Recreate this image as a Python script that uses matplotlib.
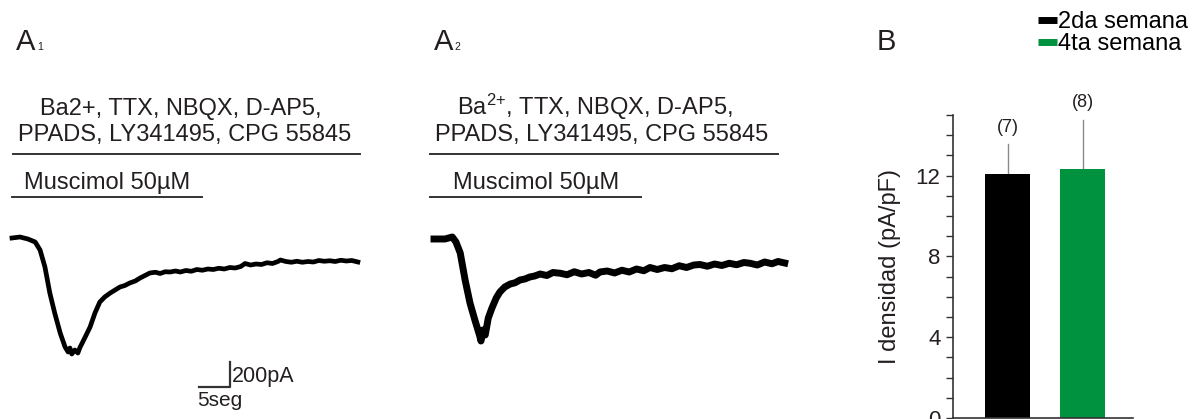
import matplotlib
matplotlib.use('Agg')
import matplotlib.pyplot as plt
from matplotlib.lines import Line2D
from matplotlib.transforms import blended_transform_factory

plt.rcParams['font.family'] = ['Liberation Sans', 'DejaVu Sans']
plt.rcParams['mathtext.fontset'] = 'custom'
plt.rcParams['mathtext.rm'] = 'Liberation Sans'
plt.rcParams['mathtext.it'] = 'Liberation Sans:italic'
plt.rcParams['mathtext.bf'] = 'Liberation Sans:bold'

# ---------------- data ----------------
# Trace A1 (time in s, current in pA, baseline = 0)
a1_t = [0.0, 1.3, 2.6, 3.8, 4.6, 5.4, 6.2, 7.0, 7.9, 8.7, 9.2, 9.5, 9.8, 10.3,
        10.8, 11.1, 12.0, 12.8, 13.6, 14.4, 15.2, 16.1, 16.9, 17.7, 18.5, 19.3,
        20.2, 21.0, 21.8, 22.6, 23.5, 24.3, 25.1, 25.9, 26.8, 27.6, 28.5, 29.4,
        30.3, 31.2, 32.1, 33.0, 33.9, 34.8, 35.7, 36.6, 37.5, 38.2, 39.1, 40.0,
        40.9, 41.8, 42.7, 43.6, 44.0, 44.9, 45.8, 46.7, 47.6, 48.5, 49.4, 50.3,
        51.2, 52.1, 53.0, 53.9, 54.8, 55.7, 56.7]
a1_i = [0, 8, -8, -32, -96, -232, -440, -600, -760, -872, -912, -880, -928, -896,
        -920, -880, -792, -712, -600, -512, -472, -440, -416, -392, -380, -360,
        -344, -320, -300, -280, -274, -284, -270, -272, -264, -272, -260, -266,
        -252, -258, -248, -252, -242, -248, -236, -240, -228, -204, -216, -208,
        -212, -198, -204, -188, -176, -188, -194, -186, -194, -188, -192, -180,
        -186, -182, -188, -178, -184, -180, -192]

# Trace A2
a2_t = [0.0, 1.8, 3.0, 3.6, 4.3, 5.1, 5.9, 6.7, 7.2, 7.5, 7.7, 8.0, 8.4, 8.9,
        9.5, 10.2, 10.8, 11.6, 12.5, 13.3, 14.1, 14.9, 15.7, 16.5, 17.4, 18.5,
        19.5, 20.7, 21.8, 23.0, 24.2, 25.4, 26.5, 27.2, 28.4, 29.6, 30.8, 32.0,
        33.2, 34.4, 35.4, 36.6, 37.8, 39.0, 40.2, 41.4, 42.6, 43.6, 44.8, 46.0,
        47.2, 48.4, 49.6, 50.8, 51.8, 53.0, 54.2, 55.4, 56.4, 57.5]
a2_i = [0, 0, 16, -24, -112, -328, -512, -648, -728, -776, -816, -728, -768, -632,
        -552, -472, -424, -384, -360, -350, -328, -320, -304, -296, -280, -292,
        -268, -274, -286, -262, -280, -268, -290, -264, -256, -272, -250, -264,
        -240, -254, -228, -244, -228, -238, -214, -228, -208, -204, -218, -200,
        -212, -194, -206, -188, -194, -208, -184, -198, -180, -192]

# drug application periods (s)
drug_a1 = [0.2, 57.0]
musc_a1 = [0.0, 31.1]
drug_a2 = [-0.7, 56.4]
musc_a2 = [-0.7, 33.9]

# scale bar
scale_t = 5      # s
scale_i = 200    # pA

# bar chart
groups = ['2da semana', '4ta semana']
means = [12.1, 12.35]
errs = [1.45, 2.4]
ns = ['(7)', '(8)']
colors = ['#000000', '#00923F']

# ---------------- figure ----------------
W, H = 1200, 419
fig = plt.figure(figsize=(12, 4.19), dpi=100)
TXT = '#231f20'


def fx(px):
    return px / W


def fy(py):
    return 1 - py / H


PXS = 6.1      # px per second
PXI = 0.125    # px per pA


def trace_axes(left_px, t0_px, base_px):
    ax = fig.add_axes([fx(left_px), 0, 400 / W, (H - 60) / H])
    ax.set_xlim(-(t0_px - left_px) / PXS, (left_px + 400 - t0_px) / PXS)
    ax.set_ylim(-(H - base_px) / PXI, (base_px - 60) / PXI)
    ax.axis('off')
    return ax


ax1 = trace_axes(0, 12, 238)
ax1.plot(a1_t, a1_i, color='black', lw=3.4, solid_joinstyle='round')
ax2 = trace_axes(420, 434, 239)
ax2.plot(a2_t, a2_i, color='black', lw=5.0, solid_joinstyle='round')

for ax, drug, musc in [(ax1, drug_a1, musc_a1), (ax2, drug_a2, musc_a2)]:
    tr = blended_transform_factory(ax.transData, fig.transFigure)
    ax.plot(drug, [fy(154)] * 2, color='#333333', lw=1.4, transform=tr, clip_on=False)
    ax.plot(musc, [fy(197)] * 2, color='#333333', lw=1.4, transform=tr, clip_on=False)

# scale bar in A1
sb_t1 = 35.7
sb_i0 = -1192
ax1.plot([sb_t1 - scale_t, sb_t1, sb_t1], [sb_i0, sb_i0, sb_i0 + scale_i],
         color='#333333', lw=1.6, clip_on=False)
ax1.text(sb_t1 + 0.3, sb_i0 + 40, f'{scale_i}pA', fontsize=15.5, color=TXT,
         ha='left', va='baseline')
ax1.text(sb_t1 - scale_t - 0.3, -1340, f'{scale_t}seg', fontsize=15, color=TXT,
         ha='left', va='baseline')

# panel texts
fig.text(fx(16), fy(50), 'A', fontsize=21, color=TXT, ha='left', va='baseline')
fig.text(fx(37), fy(50), '1', fontsize=7.5, color=TXT, ha='left', va='baseline')
fig.text(fx(434), fy(50), 'A', fontsize=21, color=TXT, ha='left', va='baseline')
fig.text(fx(454), fy(50), '2', fontsize=7.5, color=TXT, ha='left', va='baseline')
fig.text(fx(877), fy(50), 'B', fontsize=21, color=TXT, ha='left', va='baseline')

fig.text(fx(40), fy(115), 'Ba2+, TTX, NBQX, D-AP5,', fontsize=17, color=TXT,
         ha='left', va='baseline')
fig.text(fx(18), fy(141), 'PPADS, LY341495, CPG 55845', fontsize=17, color=TXT,
         ha='left', va='baseline')
fig.text(fx(24), fy(189), 'Muscimol 50µM', fontsize=17, color=TXT,
         ha='left', va='baseline')

fig.text(fx(457), fy(115), 'Ba$^{2{+}}$, TTX, NBQX, D-AP5,', fontsize=17, color=TXT,
         ha='left', va='baseline')
fig.text(fx(435), fy(141), 'PPADS, LY341495, CPG 55845', fontsize=17, color=TXT,
         ha='left', va='baseline')
fig.text(fx(453), fy(189), 'Muscimol 50µM', fontsize=17, color=TXT,
         ha='left', va='baseline')

# ---------------- bar chart ----------------
axb = fig.add_axes([fx(953), fy(418), (1133 - 953) / W, (418 - 115) / H])
xpos = [1, 2]
axb.bar(xpos, means, width=0.61, color=colors, zorder=2)
for x, m, e, n in zip(xpos, means, errs, ns):
    axb.plot([x, x], [m, m + e], color='#8a8a8a', lw=1.0, zorder=1)
    axb.text(x, m + e + 0.85, n, fontsize=13, color=TXT, ha='center', va='center',
             clip_on=False)
axb.set_xlim(0.273, 2.673)
axb.set_ylim(0, 15)
axb.set_yticks([0, 4, 8, 12])
axb.set_yticks(range(0, 16), minor=True)
axb.set_xticks([])
axb.tick_params(axis='y', which='both', direction='out', length=5, width=1.0,
                color='#333333', labelsize=16, labelcolor=TXT, pad=4)
for s in ['top', 'right']:
    axb.spines[s].set_visible(False)
for s in ['left', 'bottom']:
    axb.spines[s].set_color('#333333')
    axb.spines[s].set_linewidth(1.2)
axb.set_ylabel('I densidad (pA/pF)', fontsize=17, color=TXT)
axb.yaxis.set_label_coords(-0.29, 0.5)

handles = [Line2D([], [], color=c, lw=5, solid_capstyle='butt') for c in colors]
axb.legend(handles, groups, loc='upper left', bbox_to_anchor=(fx(1038), fy(11)),
           bbox_transform=fig.transFigure, frameon=False, fontsize=17,
           handlelength=0.8, handletextpad=0.05, labelspacing=0.0,
           borderpad=0, borderaxespad=0)

fig.savefig('out.png', dpi=100)
